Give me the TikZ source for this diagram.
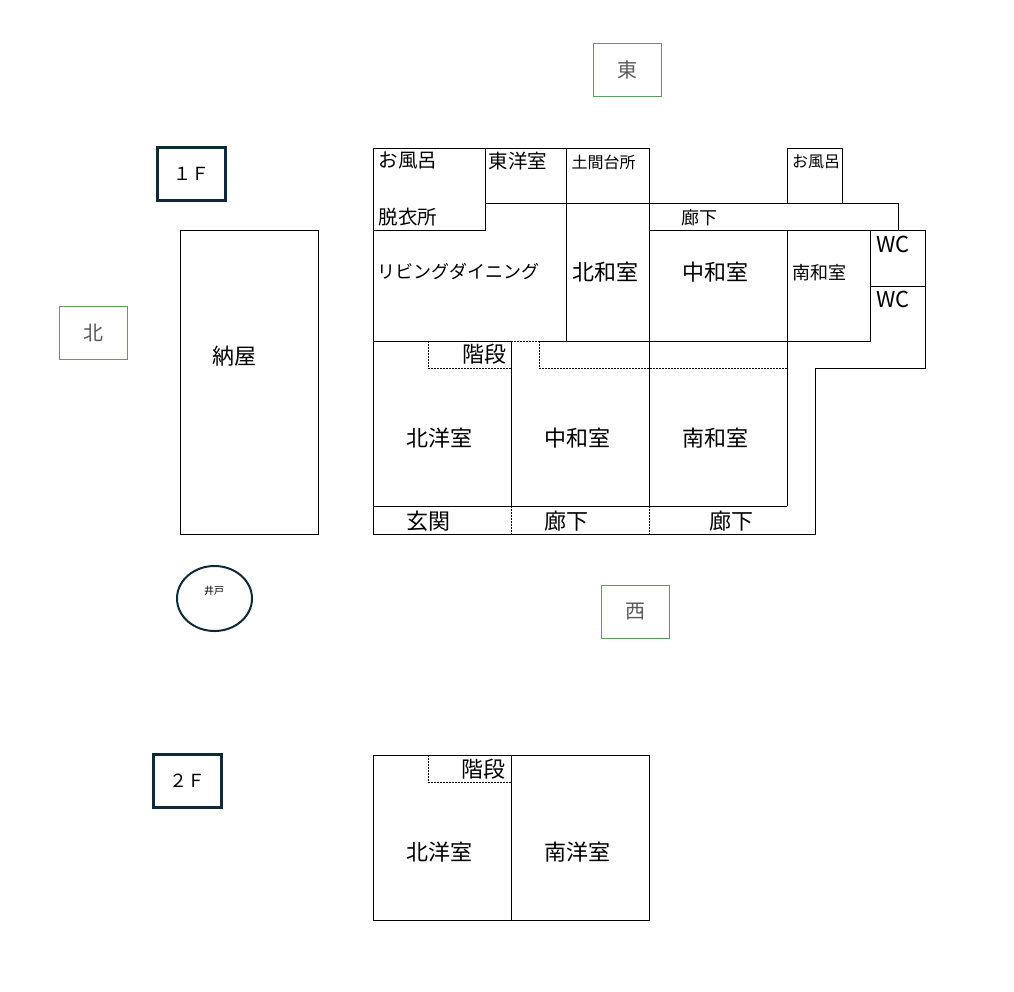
\documentclass[tikz,border=0pt]{standalone}
\usepackage{fontspec}
\setmainfont{Noto Sans CJK JP}
\definecolor{navy}{RGB}{14,42,56}
\definecolor{compass}{RGB}{95,155,95}
\definecolor{compasstext}{RGB}{90,90,90}

\begin{document}
\begin{tikzpicture}[x=1pt,y=-1pt,line width=1pt,
  lbl/.style={inner sep=0pt},
  big/.style={lbl,font=\fontsize{22}{24}\selectfont},
  mid/.style={lbl,font=\fontsize{19.5}{22}\selectfont},
  sml/.style={lbl,font=\fontsize{18}{20}\selectfont},
  tiny/.style={lbl,font=\fontsize{16}{18}\selectfont},
  dots/.style={dash pattern=on 1.5pt off 1.5pt},
  compassbox/.style={draw=compass,line width=1pt,minimum width=68pt,minimum height=53pt,
    text=compasstext,font=\fontsize{20}{22}\selectfont},
  floorbox/.style={draw=navy,line width=3pt,minimum width=68pt,minimum height=53pt,
    font=\fontsize{18}{20}\selectfont}]
\useasboundingbox (0,0) rectangle (1014,991);

% compass
\node[compassbox] (east) at (627,70) {東};
\node[compassbox] (north) at (93.5,332.5) {北};
\node[compassbox] (west) at (635.5,611.5) {西};

\node[floorbox] (f1) at (191.5,174) {１Ｆ};
\node[floorbox] (f2) at (187,781) {２Ｆ};

% 1F
\draw (373,148) rectangle (485,230);
\draw (485,148) rectangle (566,203);
\draw (566,148) rectangle (649,203);
\draw (649,203)--(898,203)--(898,230);
\draw (787,203)--(787,148)--(842,148)--(842,203);
\draw (566,203) rectangle (649,341);
\draw (373,230)--(373,341);
\draw (649,230)--(925,230);
\draw (649,230) rectangle (787,341);
\draw (787,230) rectangle (870,341);
\draw (870,286)--(925,286);
\draw (925,230)--(925,368)--(815,368)--(815,534)--(373,534)--(373,341);
\draw (373,341)--(511,341);
\draw (539,341)--(870,341);
\draw (511,341)--(511,506);
\draw (649,341)--(649,506);
\draw (787,341)--(787,506);
\draw (373,506)--(787,506);

\draw[dots] (649,203)--(649,230);
\draw[dots] (511,341)--(539,341);
\draw[dots] (428,341)--(428,368)--(511,368);
\draw[dots] (539,341)--(539,368)--(787,368);
\draw[dots] (511,506)--(511,534);
\draw[dots] (649,506)--(649,534);

\draw (408,161)node[mid](bath){お風呂};
\draw (518,161)node[mid](eastroom){東洋室};
\draw (603.5,162)node[tiny](kitchen){土間台所};
\draw (408,217)node[mid](dress){脱衣所};
\draw (458.7,272)node[sml](living){リビングダイニング};
\draw (605,272)node[big](northjp){北和室};
\draw (816,162)node[tiny](bath2){お風呂};
\draw (699,217.5)node[sml](hall1){廊下};
\draw (715.5,272)node[big](midjp){中和室};
\draw (819,272.5)node[sml](southjp){南和室};
\draw (893,244)node[big](wc1){WC};
\draw (893,299.5)node[big](wc2){WC};

\draw (484,354)node[big](stairs){階段};
\draw (439,438)node[big](northw){北洋室};
\draw (577.5,438)node[big](midjp2){中和室};
\draw (715.5,438)node[big](southjp2){南和室};
\draw (428,521)node[big](entry){玄関};
\draw (566,521)node[big](hall2){廊下};
\draw (731,521)node[big](hall3){廊下};

% barn and well
\draw (180,230) rectangle (318,534);
\draw (234.5,356)node[big](barn){納屋};
\draw[navy,line width=2pt] (214.5,598.5) ellipse [x radius=37.5, y radius=32.5];
\draw (214,591)node[lbl,font=\fontsize{10}{12}\selectfont](well){井戸};

% 2F
\draw (373,755) rectangle (649,920);
\draw (511,755)--(511,920);
\draw[dots] (428,755)--(428,782)--(511,782);
\draw (483.5,769)node[big](stairs2){階段};
\draw (439.3,852)node[big](northw2){北洋室};
\draw (577,852)node[big](southw2){南洋室};
\end{tikzpicture}
\end{document}
